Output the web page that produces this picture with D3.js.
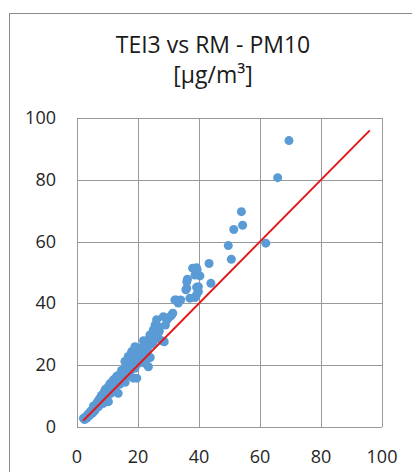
<!DOCTYPE html>
<html>
<head>
<meta charset="utf-8">
<script src="https://cdn.jsdelivr.net/npm/d3@7"></script>
<style>
  body { margin: 0; background: #fff; }
  text { font-family: "Open Sans", sans-serif; fill: #262626; }
</style>
</head>
<body>
<div id="viz"></div>
<script>
// RM (x) vs TEI3 (y), PM10 in µg/m³
var rm = [2.1,2.5,3,3.2,3.6,4,4.2,4.6,5,5.1,5.5,5.8,6,6.3,6.5,6.8,7,7.2,7.5,7.8,
          8,8.2,8.5,8.7,9,9,9.3,9.6,9.8,10,10.2,10.3,10.5,10.8,11,11.2,11.5,11.7,12,12,
          12.3,12.6,12.8,13,13.2,13.5,13.6,14,14,14.3,14.6,14.8,15,15.2,15.5,15.7,15.8,16,16.2,16.5,
          16.8,17,17,17.3,17.5,17.9,18,18.2,18.5,18.6,19,19,19.2,19.5,19.6,19.8,20,20.3,20.7,21,
          21,21.4,21.7,22,22.3,22.3,22.6,23,23.4,23.4,23.4,23.9,24,24.3,25,25,25.6,25.6,26.1,26.5,
          27,27.8,28.3,28.6,29,30.5,31.4,32.1,32.5,33.2,34,35.7,36,36,36.2,37,37.9,38.7,38.7,39.2,
          39.2,39.4,39.8,39.8,40.3,39.2,43.3,43.9,49.6,50.6,51.4,53.9,54.3,61.9,65.8,69.5,
          5.4,7.4,8.9,10.9,11.9,13.3,14.6,16.1,17.6,18.9,20.4,21.8,24.6,26.8,29.6,31];
var tei3 = [2.8,2.4,3.5,2.9,4.1,3.6,4.8,5.2,4.4,5.8,6.3,5.2,7,6.1,7.6,8.3,6.5,7.8,9,8.4,
            10.2,9.3,7.6,10.8,9.6,11.5,12.2,10.4,8.2,11.8,13,8.2,12.4,14,10.8,12.9,14.6,13.3,11.6,15.3,
            14,13.2,15.8,16.4,14.4,10.9,15.2,17,13.8,16,14.8,17.8,15.6,18.5,16.8,21.2,14.5,19.6,17.5,18.8,
            22.8,16.5,20.3,21.5,18.2,24.4,19.6,22,15.8,20.7,26,19,23.2,21.8,15.8,24.8,20.5,22.6,23.3,25.5,
            21,22.2,24.9,27,26.6,20.6,23.8,25.2,28.2,22.2,19.5,29.8,22.5,26.8,31.4,27.5,33,30.9,34.7,29,
            31,27.9,35.7,27.6,33,35.7,36.8,41.1,41.1,40.1,41.1,44.4,44.9,47,47.8,41.7,51.4,49.2,41.9,45.2,
            42.8,50.9,43.8,45.4,48.9,51.5,52.9,46.5,58.7,54.3,63.9,69.7,65.3,59.5,80.7,92.7,
            6.8,9.2,11,13.1,14.5,16.2,18.3,19.8,21.9,23.6,25.1,27.9,29.4,32.4,34.8,36.2];
var refLine = [2, 96];          // 1:1 line ends
var ticks = [0, 20, 40, 60, 80, 100];
var titleLines = ["TEI3 vs RM - PM10", "[µg/m³]"];

var W = 412, H = 472;
var svg = d3.select("#viz").append("svg")
    .attr("width", W)
    .attr("height", H);

// chart frame (runs past the right and bottom edges)
svg.append("rect")
    .attr("x", 9.5).attr("y", 13.5)
    .attr("width", W + 20).attr("height", H + 20)
    .style("fill", "#fff")
    .style("stroke", "#8c8c8c");

var x = d3.scaleLinear().domain([0, 100]).range([77, 382]);
var y = d3.scaleLinear().domain([0, 100]).range([427, 118]);

var grid = svg.append("g");
grid.selectAll(".vg").data(ticks).enter().append("line")
    .attr("x1", function(d){ return Math.round(x(d)) + 0.5; })
    .attr("x2", function(d){ return Math.round(x(d)) + 0.5; })
    .attr("y1", y(0)).attr("y2", y(100))
    .style("stroke", "#999");
grid.selectAll(".hg").data(ticks).enter().append("line")
    .attr("y1", function(d){ return Math.round(y(d)) + 0.5; })
    .attr("y2", function(d){ return Math.round(y(d)) + 0.5; })
    .attr("x1", x(0)).attr("x2", x(100))
    .style("stroke", "#999");

svg.selectAll(".yl").data(ticks).enter().append("text")
    .attr("x", 56)
    .attr("y", function(d){ return y(d) + 6; })
    .attr("text-anchor", "end")
    .style("font-size", "18px")
    .text(function(d){ return d; });

svg.selectAll(".xl").data(ticks).enter().append("text")
    .attr("x", function(d){ return x(d); })
    .attr("y", 463)
    .attr("text-anchor", "middle")
    .style("font-size", "18px")
    .text(function(d){ return d; });

var pts = rm.map(function(d, i){ return {rm: d, tei: tei3[i]}; });

svg.append("g").selectAll("circle")
    .data(pts)
    .enter()
    .append("circle")
    .attr("cx", function(d){ return x(d.rm); })
    .attr("cy", function(d){ return y(d.tei); })
    .attr("r", 4.5)
    .style("fill", "#5b9bd5");

svg.append("line")
    .attr("x1", x(refLine[0])).attr("y1", y(refLine[0]))
    .attr("x2", x(refLine[1])).attr("y2", y(refLine[1]))
    .style("stroke", "#e31a1c")
    .style("stroke-width", 2);

svg.selectAll(".title").data(titleLines).enter().append("text")
    .attr("x", 213)
    .attr("y", function(d, i){ return 53 + i * 30; })
    .attr("text-anchor", "middle")
    .style("font-size", "23px")
    .style("fill", "#1a1a1a")
    .text(function(d){ return d; });
</script>
</body>
</html>
